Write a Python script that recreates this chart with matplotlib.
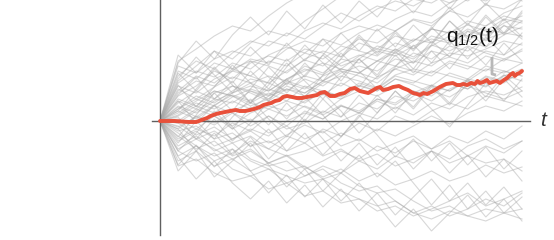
import numpy as np
import matplotlib
matplotlib.use("Agg")
import matplotlib.pyplot as plt

plt.rcParams['mathtext.fontset'] = 'custom'
plt.rcParams['mathtext.rm'] = 'Liberation Sans'
plt.rcParams['mathtext.it'] = 'Liberation Sans:italic'

# sample paths: values at 20 equal time steps after t=0 (start at 0)
paths = [
    [12, 25, 18, 30, 42, 38, 50, 61, 55, 70, 82, 78, 90, 101, 95, 110, 122, 130, 135, 140],
    [-10, -5, -18, -12, -25, -20, -30, -22, -35, -28, -40, -33, -45, -38, -30, -42, -35, -25, -32, -20],
    [30, 45, 38, 52, 60, 55, 48, 62, 70, 64, 78, 72, 85, 80, 92, 88, 96, 90, 102, 98],
    [-25, -15, -30, -22, -38, -45, -40, -55, -48, -62, -70, -65, -80, -92, -85, -95, -88, -78, -85, -72],
    [5, 15, 8, 20, 12, 25, 32, 28, 40, 35, 48, 42, 55, 50, 45, 58, 52, 65, 60, 72],
    [40, 55, 70, 62, 78, 90, 85, 100, 112, 125, 132, 128, 140, 135, 145, 150, 142, 155, 160, 158],
    [-15, -28, -20, -35, -28, -42, -50, -45, -58, -52, -65, -72, -68, -80, -90, -85, -95, -88, -92, -98],
    [10, 2, 15, 8, -5, 5, -8, -2, 10, 4, 18, 12, 25, 20, 30, 24, 35, 28, 22, 30],
    [20, 12, 28, 35, 30, 22, 38, 45, 40, 52, 48, 60, 55, 68, 62, 75, 70, 82, 88, 85],
    [-35, -25, -40, -32, -20, -28, -15, -22, -8, -15, -2, -10, 5, -2, 10, 18, 12, 25, 20, 15],
    [55, 48, 62, 70, 65, 80, 75, 90, 98, 92, 105, 115, 110, 122, 118, 128, 120, 132, 125, 130],
    [0, 12, 5, -8, 2, -12, -5, -18, -10, -25, -18, -30, -22, -15, -28, -20, -35, -42, -38, -50],
    [18, 30, 22, 35, 28, 20, 32, 25, 38, 45, 40, 33, 46, 52, 48, 60, 55, 50, 62, 58],
    [-5, -18, -10, -22, -15, -28, -35, -30, -22, -12, -20, -8, -15, -5, 5, -3, 8, 15, 10, 20],
    [25, 35, 50, 42, 58, 65, 60, 72, 68, 55, 62, 75, 70, 82, 78, 90, 85, 95, 105, 100],
    [-45, -38, -52, -60, -55, -68, -62, -75, -70, -82, -78, -90, -85, -95, -88, -80, -72, -85, -78, -70],
    [8, 20, 30, 25, 15, 22, 35, 28, 40, 50, 45, 38, 52, 60, 55, 68, 65, 72, 80, 76],
    [15, 8, 20, 28, 35, 30, 42, 50, 58, 52, 65, 72, 68, 80, 92, 88, 100, 95, 108, 115],
    [-20, -10, -25, -18, -8, -15, 0, 8, 2, 15, 10, 22, 18, 30, 25, 38, 32, 45, 40, 48],
    [45, 60, 52, 68, 80, 75, 88, 82, 95, 108, 100, 112, 120, 115, 125, 118, 130, 122, 128, 135],
    [-8, 5, -2, 10, 18, 12, 5, 15, 8, 22, 30, 25, 35, 28, 20, 32, 40, 35, 45, 52],
    [35, 28, 42, 50, 45, 38, 30, 42, 35, 48, 55, 50, 62, 58, 70, 65, 75, 68, 62, 70],
    [-30, -40, -32, -48, -55, -48, -62, -55, -45, -52, -40, -48, -35, -42, -30, -38, -25, -18, -28, -20],
    [12, 22, 15, 28, 38, 45, 40, 55, 48, 62, 58, 70, 65, 75, 82, 78, 90, 85, 95, 92],
    [2, -8, 5, -5, 8, 15, 10, 20, 28, 22, 35, 30, 42, 38, 50, 45, 40, 52, 48, 58],
    [60, 72, 85, 95, 90, 105, 118, 128, 135, 140, 138, 145, 150, 148, 155, 160, 152, 158, 165, 160],
    [-12, -25, -35, -28, -40, -48, -55, -62, -58, -70, -78, -85, -80, -92, -98, -90, -95, -100, -92, -88],
    [22, 15, 30, 25, 18, 28, 20, 35, 30, 25, 38, 32, 45, 40, 35, 48, 42, 55, 50, 45],
    [-2, 10, 22, 18, 30, 25, 38, 32, 45, 52, 48, 60, 68, 62, 75, 85, 80, 92, 88, 100],
    [28, 40, 35, 50, 62, 58, 72, 80, 75, 88, 95, 90, 102, 110, 105, 118, 125, 120, 130, 128],
    [-18, -8, -15, -2, -10, 5, -5, 10, 2, 15, 8, 20, 12, 25, 35, 30, 42, 38, 50, 45],
    [50, 42, 58, 52, 45, 60, 55, 68, 62, 75, 70, 65, 78, 72, 85, 80, 92, 86, 98, 105],
    [-40, -30, -45, -38, -50, -42, -35, -48, -40, -30, -38, -25, -32, -20, -28, -15, -22, -10, -18, -5],
    [6, 18, 12, 24, 32, 26, 40, 34, 26, 38, 30, 44, 52, 46, 58, 64, 58, 70, 66, 78],
    [38, 50, 44, 58, 52, 66, 74, 68, 82, 76, 88, 96, 90, 102, 98, 110, 104, 116, 112, 122],
    [-6, 4, -4, 8, 0, 12, 20, 14, 6, 16, 8, 22, 16, 28, 36, 30, 40, 34, 46, 40],
    [14, 4, 16, 26, 20, 32, 26, 18, 30, 24, 36, 30, 42, 36, 28, 38, 32, 44, 38, 50],
    [-28, -18, -28, -38, -30, -42, -34, -46, -56, -48, -60, -52, -64, -58, -50, -60, -54, -44, -52, -46],
    [32, 22, 34, 44, 38, 30, 42, 52, 46, 58, 66, 60, 72, 64, 76, 70, 80, 74, 86, 94],
    [-2, -14, -6, -18, -10, -22, -14, -4, -12, 0, 8, 2, 14, 6, 18, 12, 24, 30, 26, 34],
    [48, 30, 52, 38, 60, 44, 28, 46, 66, 50, 34, 56, 72, 58, 80, 64, 90, 74, 96, 82],
    [-50, -30, -56, -40, -22, -44, -66, -48, -70, -52, -34, -56, -40, -62, -84, -64, -88, -70, -92, -76],
    [26, 44, 22, 40, 18, 36, 58, 40, 22, 44, 62, 46, 70, 52, 76, 100, 84, 106, 88, 110],
    [-22, 0, -18, 4, 22, 2, -16, 6, 28, 10, -12, 8, 30, 14, 36, 18, 42, 24, 46, 30],
    [58, 80, 62, 86, 104, 86, 110, 92, 116, 98, 120, 104, 126, 108, 130, 112, 134, 116, 138, 120],
    [-36, -58, -40, -62, -78, -60, -82, -64, -86, -68, -90, -72, -94, -76, -58, -80, -62, -84, -66, -88],
    [4, -18, 2, -20, -2, 20, 2, 24, 6, -16, 4, 26, 8, 30, 12, -6, 16, 38, 20, 42],
    [36, 14, 34, 56, 38, 20, 42, 24, 46, 68, 50, 32, 54, 76, 58, 80, 62, 84, 66, 88],
    [-16, 6, 28, 10, 32, 54, 36, 58, 40, 62, 84, 66, 88, 70, 92, 114, 96, 118, 100, 122],
    [20, -2, 16, -6, -26, -8, -30, -12, -34, -16, 6, -14, -36, -18, -40, -22, -44, -26, -48, -30],
    [-44, -24, -46, -28, -50, -72, -54, -76, -58, -80, -62, -84, -106, -88, -110, -92, -74, -96, -78, -100],
    [42, 64, 46, 28, 50, 32, 54, 76, 58, 40, 62, 44, 66, 48, 70, 52, 74, 56, 78, 60],
    [10, 32, 54, 36, 18, 40, 62, 44, 66, 88, 70, 92, 74, 96, 78, 100, 82, 104, 86, 108],
    [-8, -30, -12, -34, -16, -38, -20, 2, -18, -40, -22, -44, -26, -48, -30, -52, -34, -56, -38, -60],
    [-30, -12, 10, -8, 14, -4, 18, 0, 22, 4, 26, 8, 30, 12, 34, 16, 38, 20, 42, 24],
    [66, 48, 70, 52, 74, 56, 78, 60, 82, 64, 86, 68, 90, 72, 94, 76, 98, 80, 102, 84],
]

# median curve q_{1/2}(t): (time fraction, value)
median_t = [0, 0.04, 0.08, 0.10, 0.115, 0.13, 0.14, 0.155, 0.166, 0.18, 0.193, 0.21,
            0.22, 0.235, 0.249, 0.26, 0.276, 0.286, 0.296, 0.307, 0.318, 0.33, 0.340,
            0.351, 0.365, 0.378, 0.392, 0.406, 0.42, 0.434, 0.442, 0.455, 0.470, 0.483,
            0.497, 0.51, 0.525, 0.538, 0.552, 0.575, 0.599, 0.608, 0.616, 0.63, 0.644,
            0.66, 0.671, 0.685, 0.699, 0.71, 0.718, 0.728, 0.738, 0.755, 0.773, 0.79,
            0.809, 0.82, 0.829, 0.838, 0.848, 0.86, 0.870, 0.877, 0.884, 0.893, 0.903,
            0.91, 0.920, 0.93, 0.939, 0.95, 0.959, 0.967, 0.975, 0.98, 0.986, 0.993, 1.0]
median_v = [0, 0, -1, -1, 1, 3, 5, 7, 8, 9, 10, 11, 10, 10, 11, 12, 14, 16, 17, 18,
            20, 21, 24, 25, 24, 23, 23, 24, 25, 26, 28, 29, 25, 25, 27, 28, 32, 33, 30,
            28, 33, 34, 31, 32, 34, 35, 33, 31, 28, 27, 26, 28, 27, 30, 34, 37, 38, 36,
            36, 37, 36, 38, 37, 40, 38, 39, 41, 38, 39, 40, 38, 41, 43, 46, 48, 45, 47,
            48, 50]

fig = plt.figure(figsize=(5.54, 2.40), dpi=100)
ax = fig.add_axes([0, 0, 1, 1])
ax.set_xlim(-160 / 362, 394 / 362)
ax.set_ylim(-119, 121)
ax.axis('off')

n = len(paths[0])
tt = np.linspace(0, 1, n + 1)
for p in paths:
    ax.plot(tt, np.concatenate([[0], p]), color='#a8a8a8', lw=0.8, alpha=0.45,
            solid_joinstyle='miter', zorder=1)

ax.plot([0, 0], [121, -114], color='#606060', lw=1.0, zorder=3)
ax.plot([-8 / 362, 370 / 362], [0, 0], color='#606060', lw=1.0, zorder=3)

ax.plot(median_t, median_v, color='#e8503a', lw=2.8, zorder=4,
        solid_joinstyle='round', solid_capstyle='round')

ax.text(383 / 362, 0, 't', fontsize=15, style='italic', family='Liberation Sans',
        color='#333333', ha='center', va='center')
ax.text(313 / 362, 84, r'$\mathrm{q}_{\mathrm{1/2}}\mathrm{(t)}$', fontsize=15,
        color='#111111', ha='center', va='center')
ax.plot([332 / 362, 332 / 362, 336 / 362], [64, 47, 46], color='#b8b8b8', lw=2.0,
        zorder=5, solid_capstyle='butt')

fig.savefig('out.png', dpi=100)
